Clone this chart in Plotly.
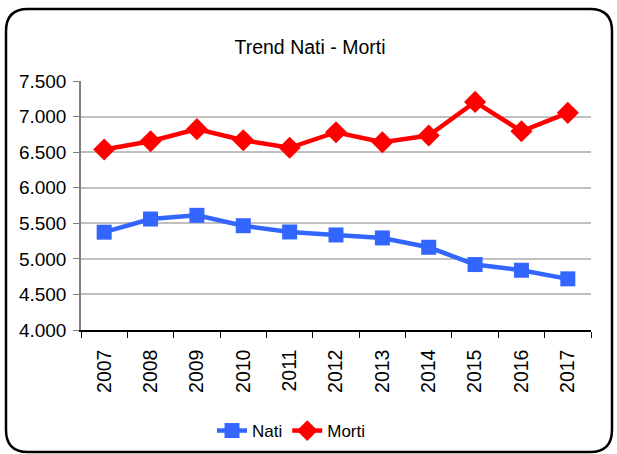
import plotly.graph_objects as go

years = ["2007", "2008", "2009", "2010", "2011", "2012", "2013", "2014", "2015", "2016", "2017"]
nati = [5375, 5560, 5612, 5466, 5378, 5336, 5294, 5163, 4920, 4840, 4719]
morti = [6538, 6654, 6823, 6668, 6561, 6780, 6640, 6734, 7206, 6794, 7052]

W, H = 617, 454
L, R, T, B = 81, 591, 81, 330

def px(x):
    return (x - L) / (R - L)

def py(y):
    return (B - y) / (B - T)

FONT = "Liberation Sans, Arial, sans-serif"

fig = go.Figure()
fig.add_trace(go.Scatter(x=years, y=nati, name="Nati", mode="lines+markers",
                         line=dict(color="#3366FF", width=4.5),
                         marker=dict(symbol="square", size=15, color="#3366FF")))
fig.add_trace(go.Scatter(x=years, y=morti, name="Morti", mode="lines+markers",
                         line=dict(color="#FF0000", width=4.5),
                         marker=dict(symbol="diamond", size=17, color="#FF0000")))

# rounded border
x0, x1, y0, y1, r = 6, 612, 9, 452, 22
path = (f"M {px(x0+r)},{py(y0)} L {px(x1-r)},{py(y0)} Q {px(x1)},{py(y0)} {px(x1)},{py(y0+r)} "
        f"L {px(x1)},{py(y1-r)} Q {px(x1)},{py(y1)} {px(x1-r)},{py(y1)} "
        f"L {px(x0+r)},{py(y1)} Q {px(x0)},{py(y1)} {px(x0)},{py(y1-r)} "
        f"L {px(x0)},{py(y0+r)} Q {px(x0)},{py(y0)} {px(x0+r)},{py(y0)} Z")
fig.add_shape(type="path", path=path, xref="paper", yref="paper",
              line=dict(color="black", width=2.5), layer="below")

fig.update_layout(
    width=W, height=H,
    margin=dict(l=L, r=W - R, t=T, b=H - B, autoexpand=False),
    paper_bgcolor="white", plot_bgcolor="white",
    separators=",.",
    font=dict(family=FONT, size=19, color="black"),
    title=dict(text="Trend Nati - Morti", x=310 / W, xanchor="center",
               y=1 - 47 / H, yanchor="middle",
               font=dict(family=FONT, size=19.5, color="black")),
    showlegend=True,
    legend=dict(orientation="h", x=px(212), xanchor="left", y=py(431), yanchor="middle",
                font=dict(family=FONT, size=17, color="black"),
                itemwidth=30, tracegroupgap=0, bgcolor="rgba(0,0,0,0)"),
    xaxis=dict(type="category", range=[-0.5, 10.5], tickson="boundaries",
               ticks="outside", ticklen=6, tickcolor="black", tickwidth=1,
               showline=True, linecolor="black", linewidth=1.5,
               showgrid=False, tickangle=-90, automargin=False,
               ticklabelstandoff=10,
               tickfont=dict(family=FONT, size=19.5, color="black")),
    yaxis=dict(range=[4000, 7500], dtick=500, tick0=4000, tickformat=",.0f",
               ticks="outside", ticklen=6, tickcolor="#808080", tickwidth=1,
               showline=True, linecolor="#808080", linewidth=1.5,
               showgrid=True, gridcolor="#C0C0C0", gridwidth=2,
               zeroline=False, automargin=False, ticklabelstandoff=3,
               tickfont=dict(family=FONT, size=19, color="black")),
)

fig.write_html("out.html", config={"displayModeBar": False},
               post_script="document.body.style.margin='0';document.body.style.overflow='hidden';")
